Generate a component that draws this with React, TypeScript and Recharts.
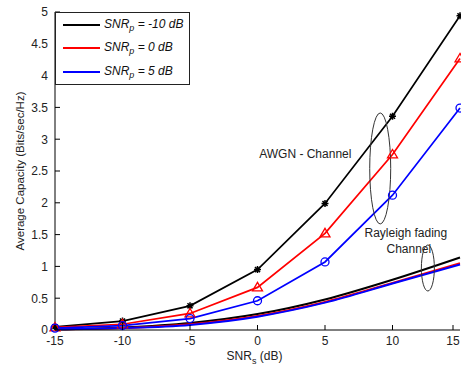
import React from 'react';
import {
    LineChart,
    Line,
    XAxis,
    YAxis,
    Legend,
    ReferenceDot,
} from 'recharts';

// SNR of the secondary user (dB)
const snrS = [-15, -10, -5, 0, 5, 10, 15];

// AWGN channel capacity for each primary SNR
const awgnM10 = [0.05, 0.14, 0.38, 0.95, 1.99, 3.36, 4.94];
const awgn0 = [0.04, 0.09, 0.26, 0.67, 1.52, 2.76, 4.27];
const awgn5 = [0.03, 0.07, 0.18, 0.46, 1.07, 2.12, 3.49];

// Rayleigh fading channel capacity
const rayM10 = [0.01, 0.04, 0.11, 0.25, 0.48, 0.79, 1.14];
const ray0 = [0.01, 0.03, 0.09, 0.22, 0.44, 0.74, 1.05];
const ray5 = [0.01, 0.03, 0.08, 0.21, 0.43, 0.73, 1.03];

const xTicks = [-15, -10, -5, 0, 5, 10, 15];
const yTicks = [0, 0.5, 1, 1.5, 2, 2.5, 3, 3.5, 4, 4.5, 5];

const data = snrS.map((s, i) => ({
    snr: s,
    awgnM10: awgnM10[i],
    awgn0: awgn0[i],
    awgn5: awgn5[i],
    rayM10: rayM10[i],
    ray0: ray0[i],
    ray5: ray5[i],
}));

const FONT = '"Liberation Sans", Arial, sans-serif';
const GAP = 7;
const TICK = 5;

const LeftTick = (props: any) => {
    const { x, y, payload } = props;
    const ax = x + GAP;
    return (
        <g>
            <line x1={ax} x2={ax + TICK} y1={y} y2={y} stroke="#000" />
            <text x={x} y={y} dy="0.36em" textAnchor="end" fontSize={12} fill="#222" fontFamily={FONT}>
                {payload.value}
            </text>
        </g>
    );
};

const BottomTick = (props: any) => {
    const { x, y, payload } = props;
    const ay = y - GAP;
    return (
        <g>
            <line x1={x} x2={x} y1={ay} y2={ay - TICK} stroke="#000" />
            <text x={x} y={ay + 6} dy="0.75em" textAnchor="middle" fontSize={12} fill="#222" fontFamily={FONT}>
                {payload.value}
            </text>
        </g>
    );
};

const Asterisk = (props: any) => {
    const { cx, cy, stroke, key } = props;
    const r = 3.5;
    const d = r * 0.72;
    return (
        <path
            key={key}
            d={`M${cx - r},${cy}H${cx + r}M${cx},${cy - r}V${cy + r}M${cx - d},${cy - d}L${cx + d},${cy + d}M${cx - d},${cy + d}L${cx + d},${cy - d}`}
            stroke={stroke}
            strokeWidth={1.5}
            fill="none"
        />
    );
};

const Triangle = (props: any) => {
    const { cx, cy, stroke, key } = props;
    const r = 5;
    return (
        <path
            key={key}
            d={`M${cx},${cy - r}L${cx + r},${cy + r * 0.7}L${cx - r},${cy + r * 0.7}Z`}
            stroke={stroke}
            strokeWidth={1.3}
            fill="none"
        />
    );
};

const Circle = (props: any) => {
    const { cx, cy, stroke, key } = props;
    return <circle key={key} cx={cx} cy={cy} r={4} stroke={stroke} strokeWidth={1.3} fill="none" />;
};

const LegendBox = (props: any) => {
    const items = (props.payload || []).filter((p: any) => p.type !== 'none');
    return (
        <div
            style={{
                width: 133,
                height: 71,
                border: '1px solid #222',
                background: '#fff',
                fontFamily: FONT,
                fontSize: 12,
                fontStyle: 'italic',
                color: '#111',
                boxSizing: 'content-box',
            }}
        >
            {items.map((p: any, i: number) => (
                <div key={i} style={{ display: 'flex', alignItems: 'center', height: 23.5 }}>
                    <span style={{ display: 'inline-block', width: 37, height: 2, background: p.color, marginLeft: 7, marginRight: 4 }} />
                    <span>
                        SNR<sub style={{ fontSize: 9, verticalAlign: '-3px' }}>p</sub> = {p.value}
                    </span>
                </div>
            ))}
        </div>
    );
};

const YLabel = (props: any) => {
    const { viewBox } = props;
    const cx = viewBox.x + 20;
    const cy = viewBox.y + viewBox.height / 2;
    return (
        <text
            x={cx}
            y={cy}
            transform={`rotate(-90, ${cx}, ${cy})`}
            textAnchor="middle"
            dominantBaseline="central"
            fontSize={11.5}
            fill="#222"
            fontFamily={FONT}
        >
            Average Capacity (Bits/sec/Hz)
        </text>
    );
};

const XLabel = (props: any) => {
    const { viewBox } = props;
    const cx = viewBox.x + viewBox.width / 2 - 3;
    return (
        <text x={cx} y={viewBox.y + 30} textAnchor="middle" fontSize={12} fill="#222" fontFamily={FONT}>
            SNR
            <tspan fontSize={9} dy={4}>s</tspan>
            <tspan dy={-4}> (dB)</tspan>
        </text>
    );
};

const ellipse = (rx: number, ry: number) => (props: any) => (
    <ellipse cx={props.cx} cy={props.cy} rx={rx} ry={ry} fill="none" stroke="#333" strokeWidth={1} />
);

const note = (lines: string[]) => (props: any) => (
    <text x={props.cx} y={props.cy} textAnchor="middle" fontSize={12} fill="#222" fontFamily={FONT}>
        {lines.map((t, i) => (
            <tspan key={i} x={props.cx + (i === 0 ? 0 : 3)} dy={i === 0 ? (lines.length > 1 ? -4 : 4) : 16}>
                {t}
            </tspan>
        ))}
    </text>
);

export default function App() {
    return (
        <div style={{ position: 'absolute', left: 0, top: 0, background: '#fff' }}>
            <LineChart width={461} height={369} data={data} margin={{ top: 12, right: 1, left: 0, bottom: 0 }}>
                <XAxis
                    dataKey="snr"
                    type="number"
                    domain={[-15, 15]}
                    ticks={xTicks}
                    height={39}
                    tickSize={0}
                    tickMargin={GAP}
                    tickLine={false}
                    axisLine={{ stroke: '#000' }}
                    tick={<BottomTick />}
                    label={<XLabel />}
                />
                <XAxis
                    xAxisId="top"
                    orientation="top"
                    type="number"
                    domain={[-15, 15]}
                    ticks={xTicks}
                    height={0}
                    mirror
                    tick={false}
                    tickSize={TICK}
                    axisLine={{ stroke: '#000' }}
                    tickLine={{ stroke: '#000' }}
                />
                <YAxis
                    type="number"
                    domain={[0, 5]}
                    ticks={yTicks}
                    width={55}
                    tickSize={0}
                    tickMargin={GAP}
                    tickLine={false}
                    axisLine={{ stroke: '#000' }}
                    tick={<LeftTick />}
                    label={<YLabel />}
                />
                <YAxis
                    yAxisId="right"
                    orientation="right"
                    type="number"
                    domain={[0, 5]}
                    ticks={yTicks}
                    width={0}
                    mirror
                    tick={false}
                    tickSize={TICK}
                    axisLine={{ stroke: '#000' }}
                    tickLine={{ stroke: '#000' }}
                />
                <Legend
                    layout="vertical"
                    align="center"
                    verticalAlign="middle"
                    wrapperStyle={{ left: 55, top: 12, width: 135, height: 73 }}
                    content={<LegendBox />}
                />
                <Line dataKey="rayM10" type="monotone" stroke="#000" strokeWidth={2} dot={false} legendType="none" isAnimationActive={false} />
                <Line dataKey="ray0" type="monotone" stroke="#ff0000" strokeWidth={2} dot={false} legendType="none" isAnimationActive={false} />
                <Line dataKey="ray5" type="monotone" stroke="#0000ff" strokeWidth={2} dot={false} legendType="none" isAnimationActive={false} />
                <Line name="-10 dB" dataKey="awgnM10" type="linear" stroke="#000" strokeWidth={1.7} dot={<Asterisk />} isAnimationActive={false} />
                <Line name="0 dB" dataKey="awgn0" type="linear" stroke="#ff0000" strokeWidth={1.7} dot={<Triangle />} isAnimationActive={false} />
                <Line name="5 dB" dataKey="awgn5" type="linear" stroke="#0000ff" strokeWidth={1.7} dot={<Circle />} isAnimationActive={false} />
                <ReferenceDot x={9.09} y={2.54} r={1} shape={ellipse(10.5, 55.5)} />
                <ReferenceDot x={12.62} y={0.975} r={1} shape={ellipse(6.5, 23)} />
                <ReferenceDot x={3.54} y={2.77} r={1} shape={note(['AWGN - Channel'])} />
                <ReferenceDot x={10.99} y={1.4} r={1} shape={note(['Rayleigh fading', 'Channel'])} />
            </LineChart>
        </div>
    );
}
